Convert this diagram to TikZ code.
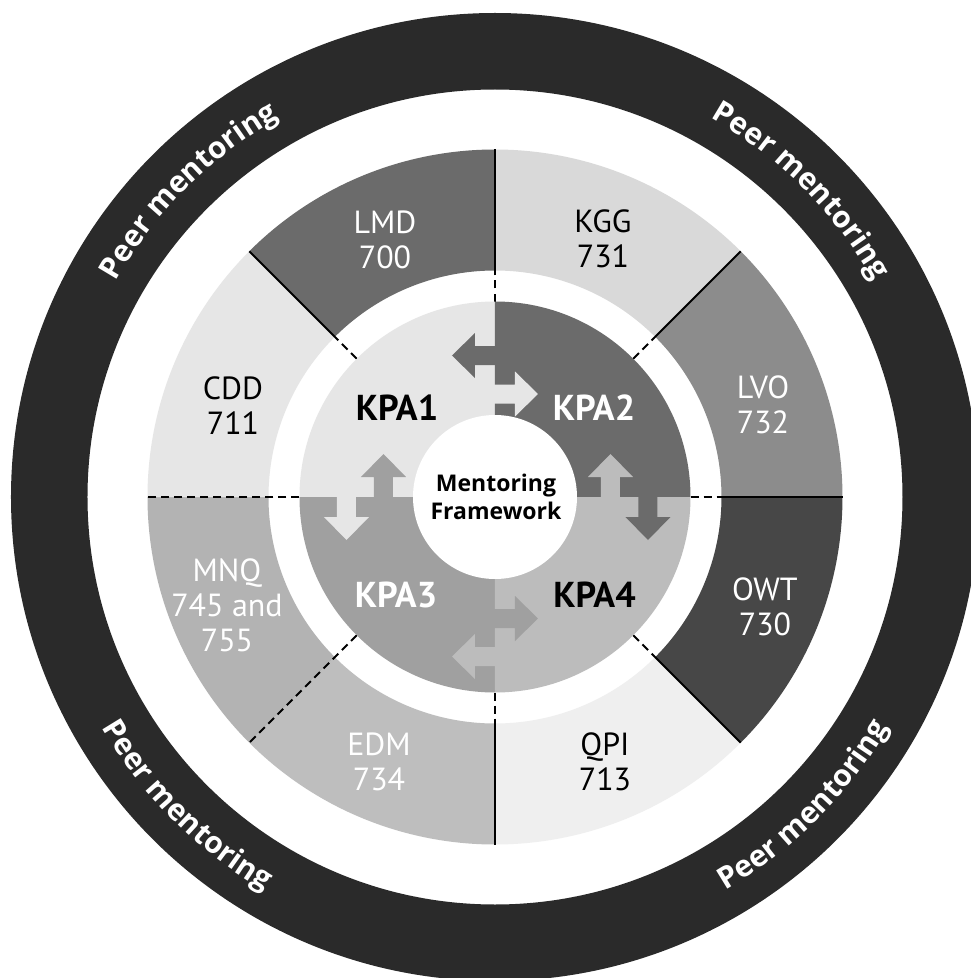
\documentclass[tikz,border=0pt]{standalone}
\usepackage{fontspec}
\usetikzlibrary{decorations.text}
\newfontfamily\lblfam{PT Sans}
\newfontfamily\peerfam{Open Sans}
\newcommand\peerfont{\peerfam\bfseries\fontsize{30}{33}\selectfont}
\definecolor{ringc}{HTML}{2A2A2A}
\definecolor{lmdc}{HTML}{6B6B6B}
\definecolor{kggc}{HTML}{D9D9D9}
\definecolor{lvoc}{HTML}{8C8C8C}
\definecolor{owtc}{HTML}{474747}
\definecolor{qpic}{HTML}{EFEFEF}
\definecolor{edmc}{HTML}{BEBEBE}
\definecolor{mnqc}{HTML}{B3B3B3}
\definecolor{cddc}{HTML}{E6E6E6}
\definecolor{kpaone}{HTML}{E6E6E6}
\definecolor{kpatwo}{HTML}{6B6B6B}
\definecolor{kpathree}{HTML}{A0A0A0}
\definecolor{kpafour}{HTML}{BCBCBC}
\newcommand\sectorfill[5]{\fill[#1] (#2:#4pt) arc[start angle=#2,end angle=#3,radius=#4pt] -- (#3:#5pt) arc[start angle=#3,end angle=#2,radius=#5pt] -- cycle;}
\newcommand\quadfill[3]{\fill[#1] (0,0) -- (#2:195.5pt) arc[start angle=#2,end angle=#3,radius=195.5pt] -- cycle;}
\newcommand\kpatab[4]{\fill[#1, shift={(#2,#3)}, rotate=#4] (-1,-9.5) -- (20,-9.5) -- (20,-22.5) -- (43,0) -- (20,22.5) -- (20,9.5) -- (-1,9.5) -- cycle;}
\begin{document}
\begin{tikzpicture}[x=1pt,y=1pt,
  seglabel/.style={font=\lblfam\fontsize{32}{35}\selectfont, align=center, inner sep=0pt},
  kpalabel/.style={font=\lblfam\bfseries\fontsize{36}{38}\selectfont, inner sep=0pt},
  solidsep/.style={black, line width=2pt},
  dashsep/.style={black, line width=2pt, dash pattern=on 8pt off 5pt},
  peertext/.style={decorate, decoration={text along path, text align=center, text color=white, text={|\peerfont|Peer mentoring}}}
]
\useasboundingbox (-495,-481) rectangle (476,497);
\clip (-495,-481) rectangle (476,497);
\fill[white] (-495,-481) rectangle (476,497);
% outer dark ring
\fill[ringc, even odd rule] (0,0) circle[radius=484pt] (0,0) circle[radius=407.5pt];
% outer segments
\sectorfill{lmdc}{90}{135}{226.5}{347.5}
\sectorfill{kggc}{45}{90}{226.5}{347.5}
\sectorfill{lvoc}{0}{45}{226.5}{347.5}
\sectorfill{owtc}{-45}{0}{226.5}{347.5}
\sectorfill{qpic}{-90}{-45}{226.5}{347.5}
\sectorfill{edmc}{-135}{-90}{226.5}{347.5}
\sectorfill{mnqc}{180}{225}{226.5}{347.5}
\sectorfill{cddc}{135}{180}{226.5}{347.5}
% separators
\foreach \a in {90,45,0,-45,-90,135} \draw[solidsep] (\a:226.5pt) -- (\a:347.5pt);
\foreach \a in {90,45,0,-45,-90,135} \draw[dashsep] (\a:195.5pt) -- (\a:226.5pt);
\foreach \a in {180,225} \draw[dashsep] (\a:195.5pt) -- (\a:347.5pt);
% inner quadrants
\quadfill{kpaone}{90}{180}
\quadfill{kpatwo}{0}{90}
\quadfill{kpathree}{180}{270}
\quadfill{kpafour}{270}{360}
% arrow tabs
\kpatab{kpaone}{0}{103}{0}
\kpatab{kpatwo}{0}{141.5}{180}
\kpatab{kpafour}{115.5}{0}{90}
\kpatab{kpatwo}{153}{0}{-90}
\kpatab{kpathree}{0}{-121.5}{0}
\kpatab{kpafour}{0}{-159.5}{180}
\kpatab{kpathree}{-111.5}{0}{90}
\kpatab{kpaone}{-148.5}{0}{-90}
% centre
\fill[white] (0,0) circle[radius=82pt];
\node[font=\peerfam\bfseries\fontsize{23}{28}\selectfont, align=center, inner sep=0pt] (mf) at (1,0.5) {Mentoring\\Framework};
% KPA labels
\node[kpalabel, text=black] (kpa1) at (-98,89) {KPA1};
\node[kpalabel, text=white] (kpa2) at (99,89) {KPA2};
\node[kpalabel, text=white] (kpa3) at (-99,-98) {KPA3};
\node[kpalabel, text=black] (kpa4) at (99.5,-98) {KPA4};
% segment labels
\node[seglabel, text=white] (lmd) at (-110,257) {LMD\\700};
\node[seglabel, text=black] (kgg) at (108,258) {KGG\\731};
\node[seglabel, text=white] (lvo) at (268,92) {LVO\\732};
\node[seglabel, text=white] (owt) at (270,-110) {OWT\\730};
\node[seglabel, text=black] (qpi) at (110,-265) {QPI\\713};
\node[seglabel, text=white] (edm) at (-116,-265) {EDM\\734};
\node[seglabel, text=white] (mnq) at (-268,-108) {MNQ\\745 and\\755};
\node[seglabel, text=black] (cdd) at (-262,91) {CDD\\711};
% peer mentoring texts
\path[peertext] (165:436pt) arc[start angle=165,end angle=105,radius=436pt];
\path[peertext] (75:436pt) arc[start angle=75,end angle=15,radius=436pt];
\path[peertext] (195:456pt) arc[start angle=195,end angle=255,radius=456pt];
\path[peertext] (285:456pt) arc[start angle=285,end angle=345,radius=456pt];
\end{tikzpicture}
\end{document}
